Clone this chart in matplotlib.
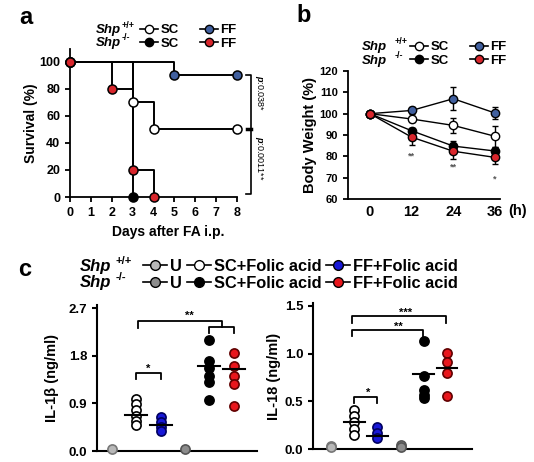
import matplotlib
matplotlib.use('Agg')
import matplotlib.pyplot as plt
from matplotlib.lines import Line2D
import numpy as np

plt.rcParams['font.family'] = ['Liberation Sans', 'DejaVu Sans']
plt.rcParams['font.weight'] = 'bold'
plt.rcParams['axes.labelweight'] = 'bold'
plt.rcParams['mathtext.fontset'] = 'custom'
plt.rcParams['mathtext.it'] = 'Liberation Sans:italic'
plt.rcParams['mathtext.rm'] = 'Liberation Sans'

# ---- panel a: survival (Kaplan-Meier steps)
surv_wt_sc_t = [0, 3, 4, 8]
surv_wt_sc = [100, 70, 50, 50]
surv_wt_ff_t = [0, 5, 8]
surv_wt_ff = [100, 90, 90]
surv_ko_sc_t = [0, 3]
surv_ko_sc = [100, 0]
surv_ko_ff_t = [0, 2, 3, 4]
surv_ko_ff = [100, 80, 20, 0]
pvals_a = ['$\\it{p}$:0.038*', '$\\it{p}$:0.0011**']

# ---- panel b: body weight
hours = [0, 12, 24, 36]
bw_wt_sc = [100, 97.5, 94.5, 89.4]
bw_wt_sc_err = [0, 1.5, 3.7, 5.0]
bw_wt_ff = [100, 101.5, 107, 100.3]
bw_wt_ff_err = [0, 1.5, 5.5, 3.0]
bw_ko_sc = [100, 92, 84.8, 82.5]
bw_ko_sc_err = [0, 1.5, 2.5, 2.0]
bw_ko_ff = [100, 89, 82.4, 79.5]
bw_ko_ff_err = [0, 3.5, 3.5, 3.0]
stars_b = ['**', '**', '*']
stars_b_y = [80, 75, 69.5]

# ---- panel c: cytokines (groups: U wt, SC wt, FF wt, U ko, SC ko, FF ko)
il1b = [[0.03],
        [0.99, 0.88, 0.77, 0.66, 0.57, 0.50],
        [0.64, 0.55, 0.46, 0.38],
        [0.03],
        [2.09, 1.70, 1.56, 1.42, 1.30, 0.97],
        [1.85, 1.61, 1.42, 1.26, 0.85]]
il1b_mean = [None, 0.68, 0.49, None, 1.60, 1.55]
il18 = [[0.03, 0.02],
        [0.41, 0.35, 0.28, 0.21, 0.15],
        [0.23, 0.17, 0.115],
        [0.045, 0.02],
        [1.13, 0.77, 0.62, 0.57, 0.54],
        [1.01, 0.91, 0.80, 0.56]]
il18_mean = [None, 0.28, 0.14, None, 0.79, 0.85]

W, H = 534, 462
SLATE = '#41609f'
RED_A = '#d8262c'
BLUE_C = '#1818d8'
RED_C = '#e8161c'
GRAY_L = '#b8b8b8'
GRAY_D = '#8c8c8c'


def px_box(left, top, right, bottom):
    return [left / W, 1 - bottom / H, (right - left) / W, (bottom - top) / H]


def style_axes(ax, lw=1.3):
    for s in ['top', 'right']:
        ax.spines[s].set_visible(False)
    for s in ['left', 'bottom']:
        ax.spines[s].set_linewidth(lw)
    ax.tick_params(width=lw, length=3.5, direction='out')


def handle(fc, ms=6):
    return Line2D([], [], color='k', lw=1.2, marker='o', mfc=fc, mec='k', ms=ms)


def shp_labels(x, y1, y2, size, sup_size, sup_dx, sup_dy):
    for y, sup in [(y1, '+/+'), (y2, '-/-')]:
        fig.text(x / W, 1 - y / H, 'Shp', fontsize=size, style='italic',
                 weight='bold', va='center', ha='left')
        fig.text((x + sup_dx) / W, 1 - (y + sup_dy) / H, sup, fontsize=sup_size,
                 weight='bold', va='center', ha='left')


fig = plt.figure(figsize=(W / 100, H / 100), dpi=100)

# ================= panel a
ax_a = fig.add_axes(px_box(70, 49, 237, 197))
for t, s, fc in [(surv_wt_sc_t, surv_wt_sc, 'white'),
                 (surv_wt_ff_t, surv_wt_ff, SLATE),
                 (surv_ko_sc_t, surv_ko_sc, 'black'),
                 (surv_ko_ff_t, surv_ko_ff, RED_A)]:
    ax_a.step(t, s, where='post', color='k', lw=1.4, clip_on=False, zorder=2)
    ax_a.plot(t, s, 'o', mfc=fc, mec='k', ms=6.5, mew=1.1, clip_on=False, zorder=3)
ax_a.set_xlim(0, 8)
ax_a.set_ylim(0, 109.6)
ax_a.set_xticks(range(0, 9))
ax_a.set_yticks(range(0, 101, 20))
style_axes(ax_a)
ax_a.tick_params(labelsize=9)
ax_a.set_ylabel('Survival (%)', fontsize=10)
ax_a.yaxis.set_label_coords(-0.19, 0.5)
ax_a.set_xlabel('Days after FA i.p.', fontsize=10)
ax_a.xaxis.set_label_coords(0.587, -0.19)
# p-value bracket
ax_a.plot([8.42, 8.66, 8.66, 8.42], [90, 90, 2, 2], color='k', lw=1.2, clip_on=False)
ax_a.plot([8.5, 8.66], [50, 50], color='k', lw=2.5, clip_on=False)
ax_a.text(9.05, 77, pvals_a[0], rotation=-90, fontsize=6.5, weight='normal',
          ha='center', va='center')
ax_a.text(9.05, 29, pvals_a[1], rotation=-90, fontsize=6.5, weight='normal',
          ha='center', va='center')

leg_kw = dict(frameon=False, loc='center left', borderpad=0, borderaxespad=0,
              ncol=2, handlelength=1.4, handletextpad=0.15, labelspacing=0.1,
              columnspacing=1.6)
fig.legend([handle('white'), handle('black'), handle(SLATE), handle(RED_A)],
           ['SC', 'SC', 'FF', 'FF'], bbox_to_anchor=(140 / W, 1 - 37 / H),
           prop={'size': 9.5, 'weight': 'bold'}, **leg_kw)
shp_labels(96, 30, 43, 9.5, 6.5, 26, -5)
fig.text(26 / W, 1 - 17 / H, 'a', fontsize=17, weight='bold', ha='center', va='center')

# ================= panel b
ax_b = fig.add_axes(px_box(348, 71, 500, 199))
for v, e, fc in [(bw_wt_sc, bw_wt_sc_err, 'white'),
                 (bw_wt_ff, bw_wt_ff_err, SLATE),
                 (bw_ko_sc, bw_ko_sc_err, 'black'),
                 (bw_ko_ff, bw_ko_ff_err, RED_A)]:
    ax_b.errorbar(hours, v, yerr=e, color='k', lw=1.0, elinewidth=1.0, capsize=2.5,
                  marker='o', mfc=fc, mec='k', ms=6, mew=1.0, zorder=3)
for h, s, y in zip(hours[1:], stars_b, stars_b_y):
    ax_b.text(h, y, s, fontsize=6.5, color='#555555', ha='center', va='center')
ax_b.set_xlim(-6.3, 37.44)
ax_b.set_ylim(60, 120)
ax_b.set_xticks(hours)
ax_b.set_yticks(range(60, 121, 10))
style_axes(ax_b)
ax_b.tick_params(axis='y', labelsize=8)
ax_b.tick_params(axis='x', labelsize=10.5, length=0, pad=4)
ax_b.text(42.6, 54.5, '(h)', fontsize=10.5, ha='center', va='center', clip_on=False)
ax_b.set_ylabel('Body Weight (%)', fontsize=10.5)
ax_b.yaxis.set_label_coords(-0.205, 0.5)
fig.legend([handle('white'), handle('black'), handle(SLATE), handle(RED_A)],
           ['SC', 'SC', 'FF', 'FF'], bbox_to_anchor=(410 / W, 1 - 54 / H),
           prop={'size': 9.5, 'weight': 'bold'}, **leg_kw)
shp_labels(362, 47, 61, 9.5, 6.5, 33, -5)
fig.text(304 / W, 1 - 16 / H, 'b', fontsize=17, weight='bold', ha='center', va='center')

# ================= panel c
c_colors = [GRAY_L, 'white', BLUE_C, GRAY_D, 'black', RED_C]
c_edges = ['#777777', 'k', '#000060', '#555555', 'k', '#600000']
positions = np.arange(1, 7)


def dot_plot(ax, data, means):
    for pos, vals, m, fc, ec in zip(positions, data, means, c_colors, c_edges):
        ax.plot(np.full(len(vals), pos), vals, 'o', mfc=fc, mec=ec, ms=6.6, mew=1.2,
                clip_on=False, zorder=3)
        if m is not None:
            ax.plot([pos - 0.45, pos + 0.45], [m, m], color='k', lw=1.5, zorder=4)


def bracket(ax, x1, x2, y, d1, d2):
    ax.plot([x1, x1, x2, x2], [y - d1, y, y, y - d2], color='k', lw=1.3)


ax_c1 = fig.add_axes(px_box(97, 305, 257, 451))
dot_plot(ax_c1, il1b, il1b_mean)
ax_c1.set_xlim(0.4, 6.95)
ax_c1.set_ylim(0, 2.757)
ax_c1.set_yticks([0, 0.9, 1.8, 2.7])
ax_c1.set_yticklabels(['0.0', '0.9', '1.8', '2.7'])
ax_c1.set_xticks([])
style_axes(ax_c1, lw=1.5)
ax_c1.tick_params(labelsize=9.5)
ax_c1.set_ylabel('IL-1β (ng/ml)', fontsize=10.5)
ax_c1.yaxis.set_label_coords(-0.24, 0.5)
bracket(ax_c1, 2, 3, 1.47, 0.11, 0.11)
ax_c1.text(2.5, 1.55, '*', fontsize=8, ha='center', va='center')
bracket(ax_c1, 5, 6, 2.34, 0.11, 0.11)
bracket(ax_c1, 2.07, 5.5, 2.45, 0.13, 0.11)
ax_c1.text(4.2, 2.55, '**', fontsize=8, ha='center', va='center')

ax_c2 = fig.add_axes(px_box(313, 303, 472, 449))
dot_plot(ax_c2, il18, il18_mean)
ax_c2.set_xlim(0.22, 7.08)
ax_c2.set_ylim(0, 1.531)
ax_c2.set_yticks([0, 0.5, 1.0, 1.5])
ax_c2.set_yticklabels(['0.0', '0.5', '1.0', '1.5'])
ax_c2.set_xticks([])
style_axes(ax_c2, lw=1.5)
ax_c2.tick_params(labelsize=9.5)
ax_c2.set_ylabel('IL-18 (ng/ml)', fontsize=10.5)
ax_c2.yaxis.set_label_coords(-0.2, 0.5)
bracket(ax_c2, 1.9, 5.95, 1.39, 0.07, 0.07)
ax_c2.text(4.2, 1.425, '***', fontsize=8, ha='center', va='center')
bracket(ax_c2, 1.9, 4.97, 1.25, 0.07, 0.10)
ax_c2.text(3.9, 1.285, '**', fontsize=8, ha='center', va='center')
bracket(ax_c2, 2, 3, 0.55, 0.07, 0.07)
ax_c2.text(2.6, 0.585, '*', fontsize=8, ha='center', va='center')

fig.legend([handle(GRAY_L, 7), handle(GRAY_D, 7), handle('white', 7), handle('black', 7),
            handle(BLUE_C, 7), handle(RED_C, 7)],
           ['U', 'U', 'SC+Folic acid', 'SC+Folic acid', 'FF+Folic acid', 'FF+Folic acid'],
           frameon=False, loc='center left', borderpad=0, borderaxespad=0, ncol=3,
           handlelength=1.45, handletextpad=0.2, labelspacing=0.1, columnspacing=0.3,
           bbox_to_anchor=(143 / W, 1 - 275 / H), prop={'size': 11.8, 'weight': 'bold'})
shp_labels(80, 267, 283, 12, 8, 36, -6)
fig.text(25 / W, 1 - 270 / H, 'c', fontsize=17, weight='bold', ha='center', va='center')

fig.savefig('out.png', dpi=100)
